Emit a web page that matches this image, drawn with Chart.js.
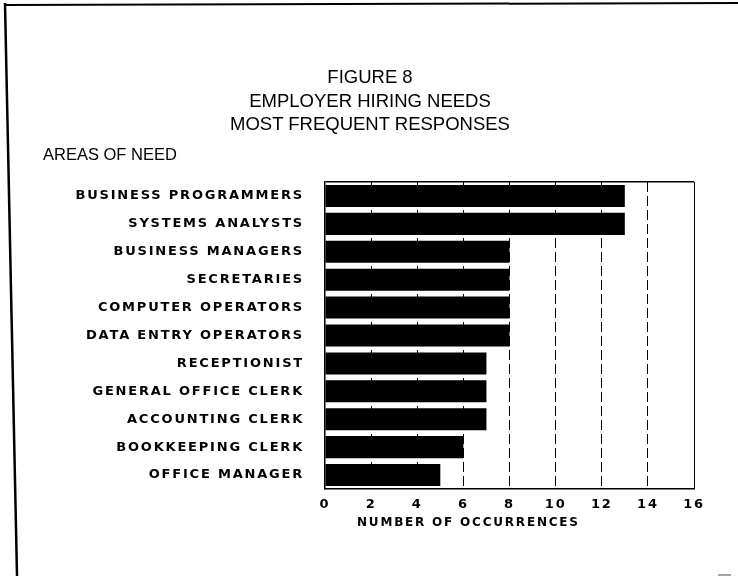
<!DOCTYPE html>
<html>
<head>
<meta charset="utf-8">
<script src="https://cdn.jsdelivr.net/npm/chart.js@4.4.1/dist/chart.umd.min.js"></script>
<style>
    html, body { margin: 0; padding: 0; background: #fff; }
    .wrapper { position: relative; width: 738px; height: 576px; overflow: hidden; font-family: 'Liberation Sans', Arial, sans-serif; color: #000; }
    .wrapper canvas { position: absolute; left: 0; top: 0; }
    .frame { position: absolute; left: 0; top: 0; }
    .title { position: absolute; left: 0; top: 65px; width: 740px; text-align: center; font-size: 18.5px; line-height: 23.5px; }
    .areas { position: absolute; left: 43px; top: 144px; font-size: 16.5px; line-height: 20px; }
    .x_title { position: absolute; left: 357px; top: 515px; font-family: 'DejaVu Sans', sans-serif; font-size: 12px; line-height: 14px; font-weight: bold; letter-spacing: 1.8px; }
</style>
</head>
<body>
<div class="wrapper">
    <canvas id="chart" width="738" height="576"></canvas>
    <svg class="frame" width="738" height="576">
        <line x1="5" y1="3" x2="17" y2="576" stroke="#000" stroke-width="2.5" />
        <line x1="5" y1="5" x2="738" y2="3" stroke="#000" stroke-width="2" />
        <line x1="718" y1="575" x2="731" y2="575" stroke="#888" stroke-width="1.5" />
    </svg>
    <div class="title">FIGURE 8<br>EMPLOYER HIRING NEEDS<br>MOST FREQUENT RESPONSES</div>
    <div class="areas">AREAS OF NEED</div>
    <div class="x_title">NUMBER OF OCCURRENCES</div>
</div>
<script>
    const areas = [
        'BUSINESS PROGRAMMERS',
        'SYSTEMS ANALYSTS',
        'BUSINESS MANAGERS',
        'SECRETARIES',
        'COMPUTER OPERATORS',
        'DATA ENTRY OPERATORS',
        'RECEPTIONIST',
        'GENERAL OFFICE CLERK',
        'ACCOUNTING CLERK',
        'BOOKKEEPING CLERK',
        'OFFICE MANAGER',
    ];
    const occurrences = [13, 13, 8, 8, 8, 8, 7, 7, 7, 6, 5];
    const xMin = 0;
    const xMax = 16;
    const xStep = 2;

    Chart.defaults.font.family = "'DejaVu Sans', 'Liberation Sans', sans-serif";
    Chart.defaults.color = '#000';

    // spaced out lettering like the old print
    const letterSpacingPlugin = {
        id: 'letterSpacing',
        beforeDraw(chart) {
            chart.ctx.letterSpacing = '1.8px';
        },
    };

    const ctx = document.getElementById('chart').getContext('2d');
    new Chart(ctx, {
        type: 'bar',
        data: {
            labels: areas,
            datasets: [
                {
                    label: 'Occurrences',
                    data: occurrences,
                    backgroundColor: '#000',
                    borderWidth: 0,
                    barPercentage: 0.79,
                    categoryPercentage: 1,
                },
            ],
        },
        options: {
            indexAxis: 'y',
            responsive: false,
            animation: false,
            layout: {
                padding: { top: 182, right: 44, bottom: 57, left: 0 },
            },
            plugins: {
                legend: { display: false },
                tooltip: { enabled: false },
            },
            scales: {
                x: {
                    min: xMin,
                    max: xMax,
                    ticks: {
                        stepSize: xStep,
                        padding: 8,
                        font: { size: 13, weight: 'bold' },
                    },
                    grid: {
                        drawTicks: false,
                        lineWidth: 1,
                        color: (c) => (c.tick && c.tick.value === xMin ? 'transparent' : '#000'),
                    },
                    border: {
                        display: true,
                        color: '#000',
                        width: 1.5,
                        dash: (c) => (c.tick && c.tick.value === xMax ? [] : [10, 4]),
                    },
                    afterFit: (scale) => {
                        scale.height = 30;
                    },
                },
                y: {
                    ticks: {
                        padding: 21,
                        font: { size: 13, weight: 'bold' },
                    },
                    grid: {
                        drawTicks: false,
                        lineWidth: 1.5,
                        color: (c) => (c.index === 0 ? '#000' : 'transparent'),
                    },
                    border: {
                        display: true,
                        color: '#000',
                        width: 1.5,
                    },
                    afterFit: (scale) => {
                        scale.width = 325;
                    },
                },
            },
        },
        plugins: [letterSpacingPlugin],
    });
</script>
</body>
</html>
